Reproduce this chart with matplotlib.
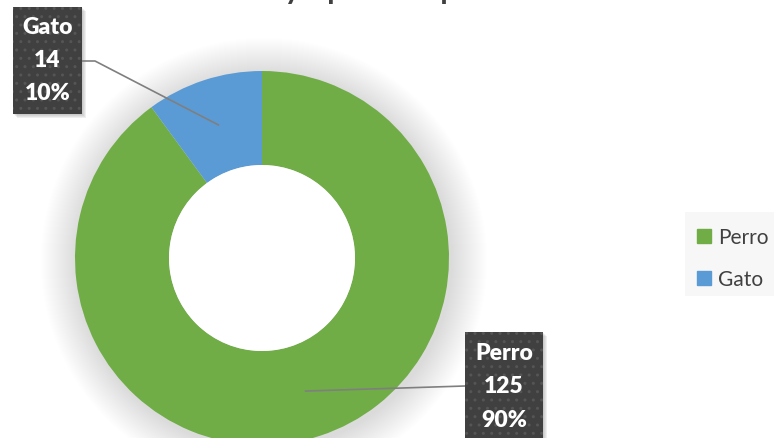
import numpy as np
import matplotlib
matplotlib.use('Agg')
import matplotlib.pyplot as plt
from matplotlib.patches import Rectangle, Circle
from matplotlib.lines import Line2D

# data ------------------------------------------------------
labels = ['Perro', 'Gato']
values = [125, 14]
colors = ['#70AD47', '#5B9BD5']
title = 'Mascotas y tipo de especie'

plt.rcParams['font.family'] = ['Lato', 'DejaVu Sans']

W, H = 774, 439
fig = plt.figure(figsize=(W / 100, H / 100), dpi=100)
ax = fig.add_axes([0, 0, 1, 1])

# donut geometry in pixel coords (y up)
cx, cy = 262, H - 259
r_out, r_in = 187, 93

# soft shadow around the ring
for k in range(36):
    ax.add_patch(Circle((cx + 2, cy - 3), r_out + 36 - k, color='#a0a0a0',
                        alpha=0.006, lw=0, zorder=0))

wedges, _ = ax.pie(values, colors=colors, startangle=90, counterclock=False,
                   center=(cx, cy), radius=r_out,
                   wedgeprops=dict(width=r_out - r_in, edgecolor='none'))
ax.add_patch(Circle((cx, cy), r_in, color='white', lw=0, zorder=1))

# data labels -------------------------------------------------
total = sum(values)
boxes = {'Perro': (465, 333, 78, 110), 'Gato': (13, 8, 69, 107)}
r_mid = (r_out + r_in) / 2
start = 0.0
for lab, val in zip(labels, values):
    frac = val / total
    mid = np.deg2rad(90 - 360 * (start + frac / 2))
    start += frac
    ax_, ay_ = cx + r_mid * np.cos(mid), cy + r_mid * np.sin(mid)

    bx, by, bw, bh = boxes[lab]
    y0 = H - by - bh
    # soft shadow, box, texture
    for s in range(4):
        ax.add_patch(Rectangle((bx + 1 + s, y0 - 1 - s), bw, bh, color='#808080',
                               alpha=0.12, lw=0, zorder=3))
    ax.add_patch(Rectangle((bx, y0), bw, bh, facecolor='#404040', lw=0, zorder=4))
    ax.add_patch(Rectangle((bx, y0), bw, bh, facecolor='none', edgecolor='#555555',
                           hatch='..', lw=0, zorder=4))
    ax.text(bx + bw / 2, y0 + bh / 2 + 1, f'{lab}\n{val}\n{frac * 100:.0f}%',
            ha='center', va='center', color='white', fontsize=16.5,
            fontweight='heavy', linespacing=1.72, zorder=5)

    # leader line
    ly = H - (by + 54)
    if ax_ < bx:
        pts = [(ax_, ay_), (bx, ly)]
    else:
        pts = [(ax_, ay_), (bx + bw + 13, ly), (bx + bw, ly)]
    ax.plot([p[0] for p in pts], [p[1] for p in pts], color='#7f7f7f', lw=1.2,
            zorder=2)

# legend -----------------------------------------------------
ax.add_patch(Rectangle((685, H - 297), 95, 84, facecolor='#f7f7f7', lw=0, zorder=1))
handles = [Line2D([], [], marker='s', ls='none', markersize=10, color=c)
           for c in colors]
ax.legend(handles, labels, loc='center left', bbox_to_anchor=(683 / W, 1 - 259 / H),
          frameon=False, fontsize=15, labelcolor='#404040', handletextpad=0.2,
          labelspacing=1.05, borderpad=0, handlelength=1.0)

# title, mostly cropped off the top (as in the source image)
ax.text(330, H + 1, title, ha='center', va='baseline', fontsize=22,
        fontweight='bold', color='#404040')

ax.set_xlim(0, W)
ax.set_ylim(0, H)
ax.set_aspect('auto')
ax.axis('off')
fig.savefig('out.png', dpi=100)
